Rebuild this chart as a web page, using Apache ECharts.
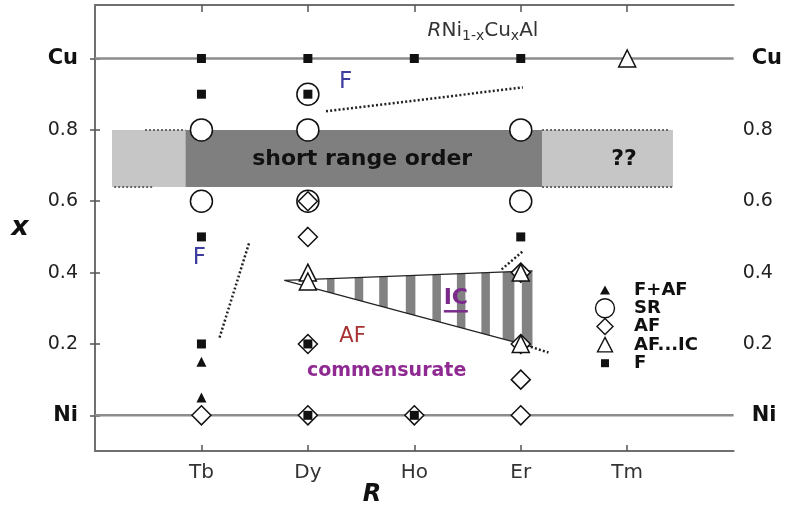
<!DOCTYPE html>
<html>
<head>
<meta charset="utf-8">
<script src="https://cdn.jsdelivr.net/npm/echarts@6/dist/echarts.min.js"></script>
<style>
  html, body { margin: 0; padding: 0; background: #fff; }
  #chart { width: 785px; height: 510px; }
</style>
</head>
<body>
<div id="chart"></div>
<script>
// Rare-earth element R along the horizontal axis (positions 1..5)
const elements = ['Tb', 'Dy', 'Ho', 'Er', 'Tm'];
// Cu content x on the vertical axis: Ni end (x = 0) to Cu end (x = 1)
const xTicks = [0, 0.2, 0.4, 0.6, 0.8, 1];
const xTickLabels = ['Ni', '0.2', '0.4', '0.6', '0.8', 'Cu'];

// Samples by magnetic ground state: [element, x]
const samplesFAF = [['Tb', 0.15], ['Tb', 0.05]];
const samplesSR = [['Tb', 0.8], ['Tb', 0.6], ['Dy', 0.9], ['Dy', 0.8], ['Dy', 0.6], ['Er', 0.8], ['Er', 0.6]];
const samplesAF = [['Tb', 0], ['Dy', 0.6], ['Dy', 0.5], ['Dy', 0.2], ['Dy', 0], ['Ho', 0],
                   ['Er', 0.4], ['Er', 0.2], ['Er', 0.1], ['Er', 0]];
const samplesAFIC = [['Dy', 0.4], ['Dy', 0.375], ['Er', 0.4], ['Er', 0.2], ['Tm', 1]];
const samplesF = [['Tb', 1], ['Tb', 0.9], ['Tb', 0.5], ['Tb', 0.2], ['Dy', 1], ['Dy', 0.9], ['Dy', 0.2], ['Dy', 0],
                  ['Ho', 1], ['Ho', 0], ['Er', 1], ['Er', 0.5]];

// Short-range-order band: [R from, R to, x from, x to, shade]
const srBands = [[0.16, 0.85, 0.64, 0.8, 'light'], [0.85, 4.2, 0.64, 0.8, 'dark'], [4.2, 5.43, 0.64, 0.8, 'light']];
const srBandEdges = [
  [[0.47, 0.8], [0.85, 0.8]],
  [[0.18, 0.64], [0.55, 0.64]],
  [[4.2, 0.8], [5.4, 0.8]],
  [[4.2, 0.64], [5.43, 0.64]]
];

// Incommensurate wedge: apex, upper and lower ends, and the hatching stripes [R from, R to]
const icApex = [1.78, 0.378];
const icTopEnd = [4.11, 0.405];
const icBottomEnd = [4.11, 0.192];
const icStripes = [[2.18, 2.25], [2.44, 2.52], [2.67, 2.75], [2.92, 3.01], [3.17, 3.25],
                   [3.40, 3.48], [3.63, 3.71], [3.83, 3.94], [4.01, 4.11]];

// Dotted phase boundaries
const boundaries = [
  [[2.17, 0.852], [4.02, 0.919]],
  [[1.17, 0.218], [1.45, 0.485]],
  [[3.82, 0.409], [4.02, 0.46]],
  [[4.02, 0.199], [4.26, 0.176]]
];

// End-member lines (RNiAl and RCuAl)
const endLines = [[[0, 1], [6, 1]], [[0, 0], [6, 0]]];

const pos = (list) => list.map(([el, x]) => [elements.indexOf(el) + 1, x]);
const FONT = '"DejaVu Sans", "Liberation Sans", sans-serif';

// Text placed in axis units
const notes = [
  { at: [3.645, 1.073], text: '{i|R}{n|Ni}{s|1-x}{n|Cu}{s|x}{n|Al}', kind: 'title' },
  { at: [2.355, 0.933], text: 'F', kind: 'blue' },
  { at: [0.98, 0.44], text: 'F', kind: 'blue' },
  { at: [2.51, 0.717], text: 'short range order', kind: 'band' },
  { at: [4.97, 0.717], text: '??', kind: 'band' },
  { at: [3.39, 0.328], text: 'IC', kind: 'ic' },
  { at: [2.42, 0.222], text: 'AF', kind: 'af' },
  { at: [2.74, 0.124], text: 'commensurate', kind: 'comm' }
];
const noteStyles = {
  title: { fontSize: 20, fill: '#333' },
  blue: { fontSize: 23, fill: '#3d3da0' },
  band: { fontSize: 22, fontWeight: 'bold', fill: '#111' },
  ic: { fontSize: 22, fontWeight: 'bold', fill: '#7b2a8c' },
  af: { fontSize: 21, fill: '#a83232' },
  comm: { fontSize: 19, fontWeight: 'bold', fill: '#8e2a92' }
};

const openStyle = { color: '#fff', borderColor: '#111', borderWidth: 1.5, opacity: 1 };
const solidStyle = { color: '#111', opacity: 1 };

function lineSeries(points, style) {
  return {
    type: 'line', data: points, symbol: 'none', silent: true, animation: false,
    lineStyle: style
  };
}
function edgeY(a, b, x) {
  return a[1] + (b[1] - a[1]) * (x - a[0]) / (b[0] - a[0]);
}

const series = [];
// shaded short-range band
series.push({
  type: 'custom', silent: true, animation: false,
  data: srBands.map(b => [b[0], b[1], b[2], b[3], b[4] === 'dark' ? 1 : 0]),
  renderItem(params, api) {
    const p0 = api.coord([api.value(0), api.value(3)]);
    const p1 = api.coord([api.value(1), api.value(2)]);
    return {
      type: 'rect',
      shape: { x: p0[0], y: p0[1], width: p1[0] - p0[0], height: p1[1] - p0[1] },
      style: { fill: api.value(4) ? '#7f7f7f' : '#c6c6c6' }
    };
  }
});
srBandEdges.forEach(e => series.push(lineSeries(e, { color: '#666', width: 2, type: [2, 2] })));
// end-member lines
endLines.forEach(e => series.push(lineSeries(e, { color: '#8c8c8c', width: 2.5 })));
// IC hatching
series.push({
  type: 'custom', silent: true, animation: false,
  data: icStripes,
  renderItem(params, api) {
    const x0 = api.value(0), x1 = api.value(1);
    const pts = [
      [x0, edgeY(icApex, icTopEnd, x0)], [x1, edgeY(icApex, icTopEnd, x1)],
      [x1, edgeY(icApex, icBottomEnd, x1)], [x0, edgeY(icApex, icBottomEnd, x0)]
    ].map(p => api.coord(p));
    return { type: 'polygon', shape: { points: pts }, style: { fill: '#828282' } };
  }
});
series.push(lineSeries([icApex, icTopEnd], { color: '#222', width: 1.2 }));
series.push(lineSeries([icApex, icBottomEnd], { color: '#222', width: 1.2 }));
boundaries.forEach(b => series.push(lineSeries(b, { color: '#222', width: 2.5, type: [2, 2.2] })));

// samples
const scatter = (name, data, symbol, size, style) => ({
  name, type: 'scatter', data: pos(data), symbol, symbolSize: size,
  itemStyle: style, animation: false, silent: true, z: 3
});
series.push(scatter('SR', samplesSR, 'circle', 22, openStyle));
series.push(scatter('AF', samplesAF, 'diamond', 19, openStyle));
series.push(scatter('AF...IC', samplesAFIC, 'triangle', 17, openStyle));
series.push(scatter('F', samplesF, 'rect', 9, solidStyle));
series.push(scatter('F+AF', samplesFAF, 'triangle', 10, solidStyle));

// annotations
series.push({
  type: 'custom', silent: true, animation: false, z: 4, clip: false,
  data: notes.map((n, i) => [n.at[0], n.at[1], i]),
  renderItem(params, api) {
    const note = notes[api.value(2)];
    const p = api.coord([api.value(0), api.value(1)]);
    const st = noteStyles[note.kind];
    const text = {
      type: 'text', x: p[0], y: p[1],
      style: Object.assign({
        text: note.text, align: 'center', verticalAlign: 'middle', fontFamily: FONT
      }, st)
    };
    if (note.kind === 'title') {
      text.style.rich = {
        i: { fontSize: 20, fontStyle: 'italic', fontFamily: FONT, fill: '#333', lineHeight: 24, verticalAlign: 'top' },
        n: { fontSize: 20, fontFamily: FONT, fill: '#333', lineHeight: 24, verticalAlign: 'top' },
        s: { fontSize: 14, fontFamily: FONT, fill: '#333', lineHeight: 24, verticalAlign: 'top', padding: [9, 0, 0, 0] }
      };
    }
    if (note.kind === 'ic') {
      return {
        type: 'group', children: [text, {
          type: 'line',
          shape: { x1: p[0] - 12, y1: p[1] + 13, x2: p[0] + 12, y2: p[1] + 13 },
          style: { stroke: st.fill, lineWidth: 2.5 }
        }]
      };
    }
    return text;
  }
});

// legend (drawn as graphics at the right of the plot)
const legendRows = ['F+AF', 'SR', 'AF', 'AF...IC', 'F'];
const legendIcons = {
  'F+AF': { type: 'polygon', shape: { points: [[0, -4.5], [5, 4.5], [-5, 4.5]] }, style: { fill: '#111' } },
  'SR': { type: 'circle', shape: { cx: 0, cy: 0, r: 9.5 }, style: { fill: '#fff', stroke: '#111', lineWidth: 1.4 } },
  'AF': { type: 'polygon', shape: { points: [[0, -8], [8, 0], [0, 8], [-8, 0]] }, style: { fill: '#fff', stroke: '#111', lineWidth: 1.4 } },
  'AF...IC': { type: 'polygon', shape: { points: [[0, -7.5], [7.5, 7], [-7.5, 7]] }, style: { fill: '#fff', stroke: '#111', lineWidth: 1.4 } },
  'F': { type: 'rect', shape: { x: -4, y: -4, width: 8, height: 8 }, style: { fill: '#111' } }
};
const legendGraphics = legendRows.map((name, i) => ({
  type: 'group', x: 605, y: 290 + i * 18.3,
  children: [
    legendIcons[name],
    { type: 'text', x: 29, y: 0, style: { text: name, fontFamily: FONT, fontSize: 18, fontWeight: 'bold', fill: '#111', verticalAlign: 'middle' } }
  ]
}));

const yLabel = (v) => {
  const t = xTickLabels[xTicks.indexOf(v)];
  return (t === 'Ni' || t === 'Cu') ? '{b|' + t + '}' : t;
};

const axisLineStyle = { color: '#707070', width: 2 };
const yAxisBase = {
  type: 'value', min: -0.1, max: 1.15,
  splitLine: { show: false },
  axisLine: { show: true, lineStyle: axisLineStyle },
  axisTick: { show: true, inside: true, length: 5, customValues: xTicks, lineStyle: { color: '#555', width: 1.5 } }
};

const option = {
  backgroundColor: '#fff',
  animation: false,
  grid: { left: 95, right: 51, top: 5, bottom: 59 },
  xAxis: [{
    type: 'value', min: 0, max: 6, position: 'bottom',
    splitLine: { show: false },
    axisLine: { show: true, onZero: false, lineStyle: axisLineStyle },
    axisTick: { show: true, inside: true, length: 6, customValues: [1, 2, 3, 4, 5], lineStyle: { color: '#555', width: 1.5 } },
    axisLabel: {
      customValues: [1, 2, 3, 4, 5], formatter: v => elements[v - 1],
      fontFamily: FONT, fontSize: 20, color: '#333', margin: 12
    }
  }, {
    type: 'value', min: 0, max: 6, position: 'top',
    splitLine: { show: false },
    axisLine: { show: true, onZero: false, lineStyle: axisLineStyle },
    axisTick: { show: true, inside: true, length: 7, customValues: [1, 2, 3, 4, 5], lineStyle: { color: '#555', width: 1.5 } },
    axisLabel: { show: false }
  }],
  yAxis: [Object.assign({}, yAxisBase, {
    position: 'left',
    axisLabel: {
      customValues: xTicks, formatter: yLabel, fontFamily: FONT, fontSize: 19, color: '#222', margin: 17,
      rich: { b: { fontFamily: FONT, fontSize: 21, fontWeight: 'bold', color: '#111' } }
    }
  }), Object.assign({}, yAxisBase, {
    position: 'right',
    axisLabel: {
      customValues: xTicks, formatter: yLabel, fontFamily: FONT, fontSize: 19, color: '#222', margin: 9,
      rich: { b: { fontFamily: FONT, fontSize: 21, fontWeight: 'bold', color: '#111', padding: [0, 0, 0, 9] } }
    }
  })],
  series,
  graphic: legendGraphics.concat([
    { type: 'text', x: 20, y: 228, style: { text: 'x', fontFamily: FONT, fontSize: 27, fontWeight: 'bold', fontStyle: 'italic', fill: '#111', align: 'center', verticalAlign: 'middle' } },
    { type: 'text', x: 372, y: 495, style: { text: 'R', fontFamily: FONT, fontSize: 24, fontWeight: 'bold', fontStyle: 'italic', fill: '#111', align: 'center', verticalAlign: 'middle' } }
  ])
};

const chart = echarts.init(document.getElementById('chart'), null, { renderer: 'canvas' });
chart.setOption(option);
</script>
</body>
</html>
